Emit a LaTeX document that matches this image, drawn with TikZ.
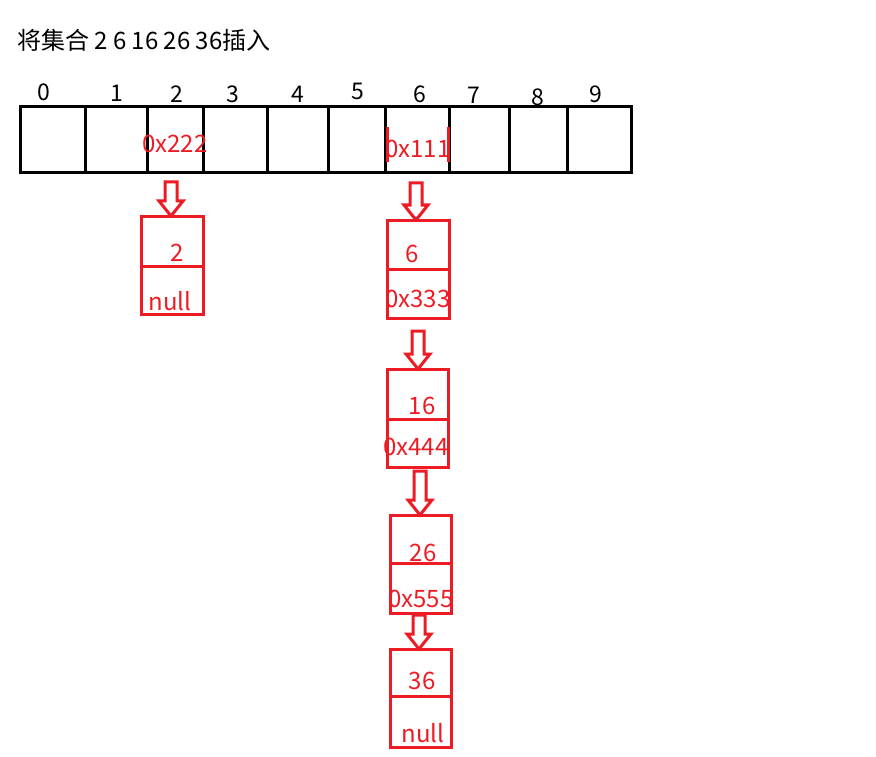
\documentclass[tikz,border=0pt]{standalone}
\usepackage{fontspec}
\setmainfont{Noto Sans CJK SC}
\usetikzlibrary{calc}
\definecolor{pred}{RGB}{237,28,36}
\tikzset{
  cell/.style={draw=black,line width=3pt,minimum height=66pt,inner sep=0pt,outer sep=0pt},
  box/.style={draw=pred,line width=3pt,inner sep=0pt,outer sep=0pt},
  idx/.style={font=\fontsize{23}{25}\selectfont,text=black,inner sep=0pt},
  val/.style={font=\fontsize{24}{26}\selectfont,text=pred,inner sep=0pt},
  redline/.style={draw=pred,line width=3pt,line join=miter},
}
\newcommand\blockdown[2]{%
  \draw[redline] let \p1=#1, \p2=#2 in
   (\x1-6pt,\y1) -- (\x1+6pt,\y1) -- (\x1+6pt,\y2+15pt) -- (\x1+12pt,\y2+15pt)
   -- (\x1,\y2) -- (\x1-12pt,\y2+15pt) -- (\x1-6pt,\y2+15pt) -- cycle;}
\begin{document}
\begin{tikzpicture}[x=1pt,y=-1pt]
\useasboundingbox (0,0) rectangle (876,757);
\node[anchor=west,inner sep=0pt,font=\fontsize{24}{26}\selectfont] (title) at (17,40) {将集合 2 6 16 26 36插入};
% array cells
\node[cell,minimum width=65pt] (c0) at (52.5,140) {};
\node[cell,minimum width=62pt] (c1) at (116,140) {};
\node[cell,minimum width=56pt] (c2) at (175,140) {};
\node[cell,minimum width=64pt] (c3) at (235,140) {};
\node[cell,minimum width=61pt] (c4) at (297.5,140) {};
\node[cell,minimum width=57pt] (c5) at (356.5,140) {};
\node[cell,minimum width=64pt] (c6) at (417,140) {};
\node[cell,minimum width=60pt] (c7) at (479,140) {};
\node[cell,minimum width=58pt] (c8) at (538,140) {};
\node[cell,minimum width=64pt] (c9) at (599,140) {};
% indices
\node[idx] (i0) at (44,92) {0};
\node[idx] (i1) at (117,93) {1};
\node[idx] (i2) at (177,94) {2};
\node[idx] (i3) at (233,94) {3};
\node[idx] (i4) at (298,94) {4};
\node[idx] (i5) at (358,91) {5};
\node[idx] (i6) at (420,94) {6};
\node[idx] (i7) at (474,95) {7};
\node[idx] (i8) at (538,97) {8};
\node[idx] (i9) at (596,94) {9};
% cell contents
\node[val] (p2) at (175,144) {0x222};
\node[val] (p6) at (418,149) {0x111};
\draw[pred,line width=3pt] (387,127) -- (387,162);
\draw[pred,line width=3pt] (448,127) -- (448,162);
% list for 2
\node[box,minimum width=62pt,minimum height=50pt] (n2a) at (172,241) {};
\node[box,minimum width=62pt,minimum height=48pt] (n2b) at (172,290) {};
\node[val] (t2a) at (177,253) {2};
\node[val] (t2b) at (170,301) {null};
% list for 6
\node[box,minimum width=62pt,minimum height=49pt] (n6a) at (418,244.5) {};
\node[box,minimum width=62pt,minimum height=49pt] (n6b) at (418,293.5) {};
\node[val] (t6a) at (412,254) {6};
\node[val] (t6b) at (418,299) {0x333};
\node[box,minimum width=61pt,minimum height=50pt] (n16a) at (417.5,394) {};
\node[box,minimum width=61pt,minimum height=48pt] (n16b) at (417.5,443) {};
\node[val] (t16a) at (422,406) {16};
\node[val] (t16b) at (416,447) {0x444};
\node[box,minimum width=61pt,minimum height=48pt] (n26a) at (420.5,539) {};
\node[box,minimum width=61pt,minimum height=50pt] (n26b) at (420.5,588) {};
\node[val] (t26a) at (423,553) {26};
\node[val] (t26b) at (421,599) {0x555};
\node[box,minimum width=61pt,minimum height=47pt] (n36a) at (420.5,672.5) {};
\node[box,minimum width=61pt,minimum height=51pt] (n36b) at (420.5,721.5) {};
\node[val] (t36a) at (422,681) {36};
\node[val] (t36b) at (423,733) {null};
% block arrows
\coordinate (a2) at (171,182);
\coordinate (a6) at (416,183);
\coordinate (a16) at (418,331);
\coordinate (a26) at (420,471);
\coordinate (a36) at (419,615);
\blockdown{(a2)}{(n2a.north)}
\blockdown{(a6)}{(n6a.north)}
\blockdown{(a16)}{(n16a.north)}
\blockdown{(a26)}{(n26a.north)}
\blockdown{(a36)}{(n36a.north)}
\end{tikzpicture}
\end{document}
